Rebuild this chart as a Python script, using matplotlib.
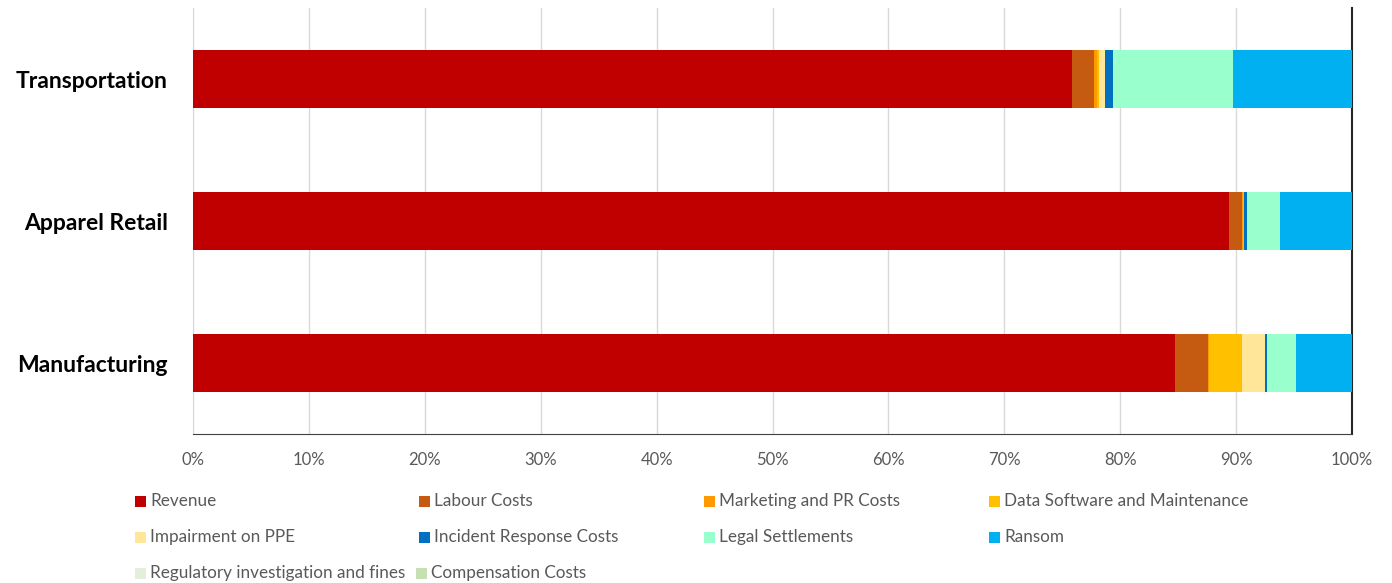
import numpy as np
import matplotlib.pyplot as plt
from matplotlib.patches import Rectangle

plt.rcParams['font.family'] = ['Lato', 'DejaVu Sans']

#=========================================================================
# share of total cost by component, in percent

industries = ['Transportation', 'Apparel Retail', 'Manufacturing']

revenue = [75.8, 89.4, 84.7]
labour_costs = [1.9, 1.1, 2.9]
marketing_pr = [0.3, 0.1, 0.1]
data_software = [0.2, 0.05, 2.8]
impairment_ppe = [0.5, 0.05, 2.0]
incident_response = [0.7, 0.2, 0.2]
legal_settlements = [10.3, 2.9, 2.5]
ransom = [10.3, 6.2, 4.8]
regulatory_fines = [0.0, 0.0, 0.0]
compensation = [0.0, 0.0, 0.0]

series_names = ['Revenue', 'Labour Costs', 'Marketing and PR Costs', 'Data Software and Maintenance',
                'Impairment on PPE', 'Incident Response Costs', 'Legal Settlements', 'Ransom',
                'Regulatory investigation and fines', 'Compensation Costs']
series_values = [revenue, labour_costs, marketing_pr, data_software, impairment_ppe,
                 incident_response, legal_settlements, ransom, regulatory_fines, compensation]
colors = ['#C00000', '#C55A11', '#FF9900', '#FFC000', '#FFE699',
          '#0070C0', '#99FFCC', '#00B0F0', '#E2EFDA', '#C6E0B4']

#=========================================================================

W, H = 1392, 583
fig = plt.figure(figsize=(W / 100, H / 100), dpi=100)
ax = fig.add_axes([193 / W, 1 - 434 / H, (1352 - 193) / W, (434 - 8) / H])

y = np.arange(len(industries))
left = np.zeros(len(industries))
for name, vals, col in zip(series_names, series_values, colors):
    vals = np.array(vals, dtype=float) / 100
    ax.barh(y, vals, left=left, height=0.41, color=col, linewidth=0, label=name, zorder=3)
    left += vals

ax.set_xlim(0, 1)
ax.set_ylim(2.5, -0.5)
ax.set_xticks(np.arange(0, 1.01, 0.1))
ax.set_xticklabels([f'{int(round(t * 100))}%' for t in np.arange(0, 1.01, 0.1)])
ax.set_yticks(y)
ax.set_yticklabels(industries, fontsize=16.5, fontweight='bold', color='black')
ax.tick_params(axis='y', length=0, pad=18)
ax.tick_params(axis='x', length=0, pad=13, labelsize=12, labelcolor='#595959')

ax.grid(axis='x', color='#D9D9D9', linewidth=1, zorder=0)
ax.spines['top'].set_visible(False)
ax.spines['left'].set_color('#D9D9D9')
ax.spines['bottom'].set_color('#404040')
ax.spines['right'].set_color('#262626')
ax.spines['right'].set_linewidth(1.5)

# legend laid out in a 4 column grid below the axes
col_x = [135, 419, 704, 989]
row_y = [501, 537, 573]
slots = [(0, 0), (1, 0), (2, 0), (3, 0),
         (0, 1), (1, 1), (2, 1), (3, 1),
         (0, 2), (1, 2)]
for (c, r), name, col in zip(slots, series_names, colors):
    x0 = col_x[c] if not (r == 2 and c == 1) else 416
    yc = row_y[r]
    fig.patches.append(Rectangle((x0 / W, 1 - (yc + 5.5) / H), 11 / W, 11 / H,
                                 transform=fig.transFigure, facecolor=col, edgecolor='none'))
    fig.text((x0 + 15) / W, 1 - yc / H, name, fontsize=12.3, color='#595959', va='center', ha='left')

fig.savefig('out.png', dpi=100)
